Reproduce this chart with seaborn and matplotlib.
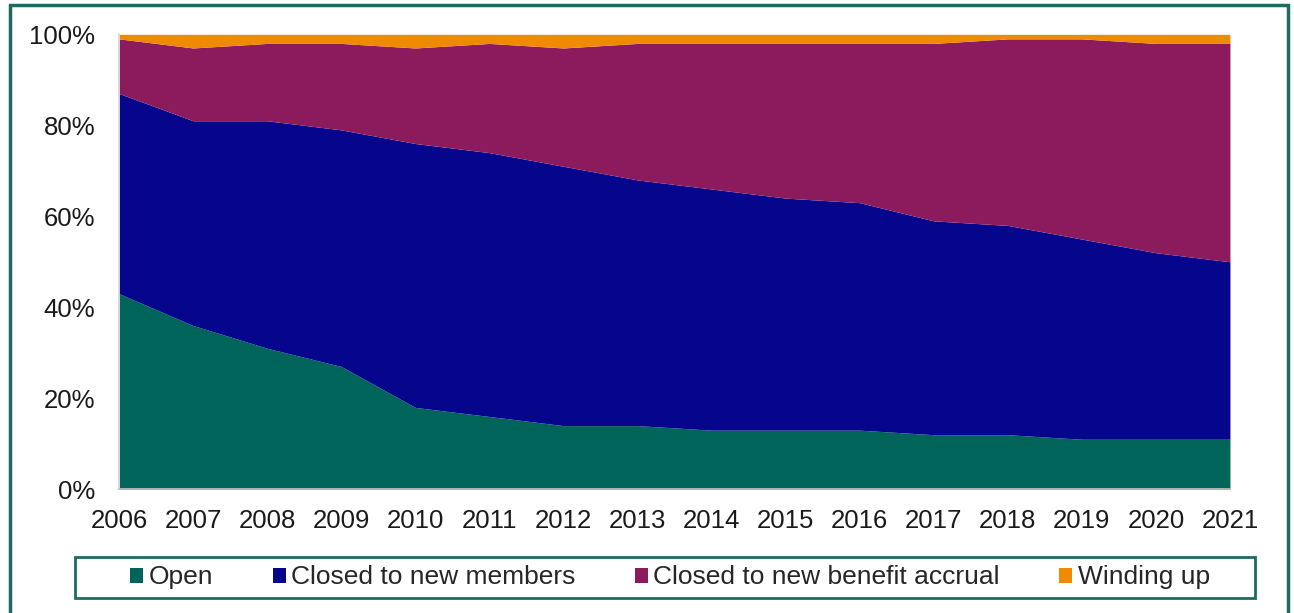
import matplotlib
matplotlib.use("Agg")
import matplotlib.pyplot as plt
from matplotlib.patches import Rectangle
from matplotlib.ticker import PercentFormatter
import seaborn as sns
import pandas as pd

# Share of schemes by status, per cent of total
years = list(range(2006, 2022))
open_share = [43, 36, 31, 27, 18, 16, 14, 14, 13, 13, 13, 12, 12, 11, 11, 11]
closed_new_members = [44, 45, 50, 52, 58, 58, 57, 54, 53, 51, 50, 47, 46, 44, 41, 39]
closed_accrual = [12, 16, 17, 19, 21, 24, 26, 30, 32, 34, 35, 39, 41, 44, 46, 48]
winding_up = [1, 3, 2, 2, 3, 2, 3, 2, 2, 2, 2, 2, 1, 1, 2, 2]

series_names = ["Open", "Closed to new members",
                "Closed to new benefit accrual", "Winding up"]
colors = ["#00645A", "#06068C", "#8C1B5E", "#F08A00"]
frame_color = "#1D6B5E"

df = pd.DataFrame({
    "year": years,
    series_names[0]: open_share,
    series_names[1]: closed_new_members,
    series_names[2]: closed_accrual,
    series_names[3]: winding_up,
})

sns.set_theme(style="white")
plt.rcParams["font.family"] = ["Liberation Sans", "DejaVu Sans"]

fig = plt.figure(figsize=(12.94, 6.13), dpi=100)
ax = fig.add_axes([0.092, 0.2018, 0.8585, 0.7422])

ax.stackplot(df["year"], *[df[n] for n in series_names],
             labels=series_names, colors=colors, linewidth=0)

ax.set_xlim(years[0], years[-1])
ax.set_ylim(0, 100)
ax.set_xticks(years)
ax.set_xticklabels([str(y) for y in years])
ax.set_yticks(range(0, 101, 20))
ax.yaxis.set_major_formatter(PercentFormatter(decimals=0))

ax.tick_params(axis="y", length=0, pad=17, labelsize=18.5, colors="#1a1a1a")
ax.tick_params(axis="x", length=5, width=1, color="#BFBFBF", pad=9,
               labelsize=18.5, labelcolor="#1a1a1a", direction="out")
for side in ["top", "right"]:
    ax.spines[side].set_visible(False)
ax.spines["left"].set_color("#D9D9D9")
ax.spines["bottom"].set_color("#BFBFBF")
ax.grid(False)

# legend entries in one row, with a separate box drawn around them
handles, labels = ax.get_legend_handles_labels()
fig.legend(handles, labels, loc="center", bbox_to_anchor=(0.5178, 0.058),
           ncol=4, fontsize=19, frameon=False,
           handlelength=0.5, handleheight=0.5, handletextpad=0.2,
           columnspacing=2.25, borderpad=0.28)
fig.patches.append(Rectangle((75 / 1294, 15 / 613), 1180 / 1294, 41 / 613,
                             transform=fig.transFigure, fill=False,
                             edgecolor=frame_color, linewidth=2))

# outer frame around the whole chart
fig.patches.append(Rectangle((0.0077, -0.02), 0.9877, 1.0118,
                             transform=fig.transFigure, fill=False,
                             edgecolor=frame_color, linewidth=2.5))

fig.savefig("out.png", dpi=100)
